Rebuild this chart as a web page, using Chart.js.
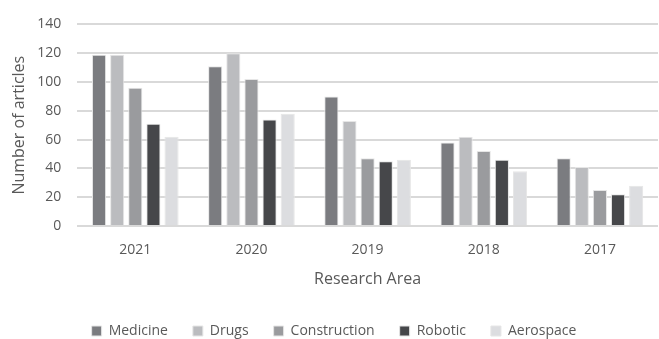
<!DOCTYPE html>
<html>
<head>
<meta charset="utf-8">
<script src="https://cdn.jsdelivr.net/npm/chart.js@4/dist/chart.umd.min.js"></script>
<style>
  html, body { margin: 0; padding: 0; background: #fff; }
  #wrap { width: 659px; height: 339px; }
</style>
</head>
<body>
<div id="wrap"><canvas id="chart"></canvas></div>
<script>
// years on the x axis
const years = ['2021', '2020', '2019', '2018', '2017'];

// articles per research area
const medicine = [119, 111, 90, 58, 47];
const drugs = [119, 120, 73, 62, 41];
const construction = [96, 102, 47, 52, 25];
const robotic = [71, 74, 45, 46, 22];
const aerospace = [62, 78, 46, 38, 28];

const yTicks = [0, 20, 40, 60, 80, 100, 120, 140];

const textColor = '#595959';
const fontFamily = '"Open Sans", sans-serif';

function series(label, data, color) {
    return {
        label: label,
        data: data,
        backgroundColor: color,
        borderColor: '#e6e6e6',
        borderWidth: 1,
        categoryPercentage: 0.78,
        barPercentage: 0.78
    };
}

new Chart(document.getElementById('chart'), {
    type: 'bar',
    data: {
        labels: years,
        datasets: [
            series('Medicine', medicine, '#7b7c80'),
            series('Drugs', drugs, '#bbbcbf'),
            series('Construction', construction, '#9a9b9e'),
            series('Robotic', robotic, '#46474a'),
            series('Aerospace', aerospace, '#dcdde0')
        ]
    },
    options: {
        responsive: true,
        maintainAspectRatio: false,
        animation: false,
        layout: { padding: { top: 12, right: 1, left: 10, bottom: -9 } },
        plugins: {
            tooltip: { enabled: false },
            legend: {
                position: 'bottom',
                labels: {
                    boxWidth: 10,
                    boxHeight: 10,
                    padding: 25,
                    color: textColor,
                    font: { family: fontFamily, size: 14 }
                }
            }
        },
        scales: {
            x: {
                grid: { display: false },
                border: { display: false },
                ticks: { color: textColor, font: { family: fontFamily, size: 14 }, padding: 8 },
                title: {
                    display: true,
                    text: 'Research Area',
                    color: textColor,
                    font: { family: fontFamily, size: 16 },
                    padding: { top: 3, bottom: 10 }
                }
            },
            y: {
                min: 0,
                max: 140,
                afterBuildTicks: (axis) => { axis.ticks = yTicks.map(v => ({ value: v })); },
                grid: { color: '#d9d9d9', lineWidth: 2, drawTicks: false },
                border: { display: false },
                ticks: { color: textColor, font: { family: fontFamily, size: 14 }, padding: 16 },
                title: {
                    display: true,
                    text: 'Number of articles',
                    color: textColor,
                    font: { family: fontFamily, size: 16 },
                    padding: { top: 0, bottom: -8 }
                }
            }
        }
    }
});
</script>
</body>
</html>
